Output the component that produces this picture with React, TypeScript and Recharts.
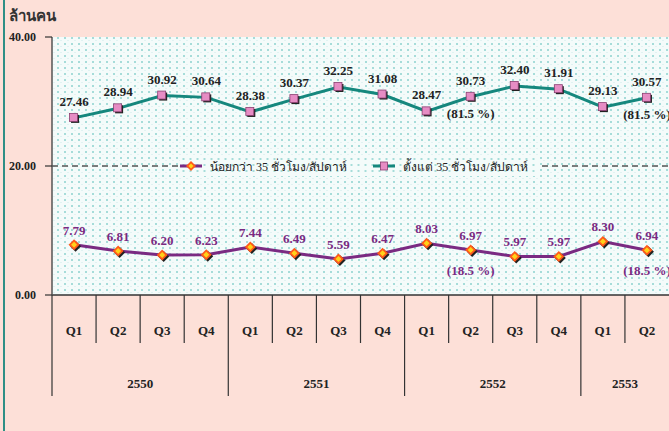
import React from "react";
import {
  LineChart,
  Line,
  XAxis,
  YAxis,
  CartesianGrid,
  ReferenceLine,
  LabelList,
  Legend,
} from "recharts";

const quarters = ["Q1", "Q2", "Q3", "Q4", "Q1", "Q2", "Q3", "Q4", "Q1", "Q2", "Q3", "Q4", "Q1", "Q2"];
const yearGroups = [
  { label: "2550", count: 4 },
  { label: "2551", count: 4 },
  { label: "2552", count: 4 },
  { label: "2553", count: 2 },
];
const fullTime = [27.46, 28.94, 30.92, 30.64, 28.38, 30.37, 32.25, 31.08, 28.47, 30.73, 32.4, 31.91, 29.13, 30.57];
const partTime = [7.79, 6.81, 6.2, 6.23, 7.44, 6.49, 5.59, 6.47, 8.03, 6.97, 5.97, 5.97, 8.3, 6.94];
const fullShare = ["", "", "", "", "", "", "", "", "", "(81.5 %)", "", "", "", "(81.5 %)"];
const partShare = ["", "", "", "", "", "", "", "", "", "(18.5 %)", "", "", "", "(18.5 %)"];
const yTicks = [0, 20, 40];

const FULL_NAME = "ตั้งแต่ 35 ชั่วโมง/สัปดาห์";
const PART_NAME = "น้อยกว่า 35 ชั่วโมง/สัปดาห์";

const data = quarters.map((q, i) => ({
  q,
  full: fullTime[i],
  part: partTime[i],
  fullShare: fullShare[i],
  partShare: partShare[i],
}));

const W = 669;
const H = 431;
const Y_AXIS_W = 52;
const PLOT_W = W - Y_AXIS_W;
const BW = PLOT_W / quarters.length;
const FONT = "'Liberation Serif', 'DejaVu Serif', serif";
const TEAL = "#15877d";
const PURPLE = "#7a2a82";

// year group start index -> group
const groupAt: Record<number, { label: string; count: number }> = {};
let start = 0;
yearGroups.forEach((g) => {
  groupAt[start] = g;
  start += g.count;
});

const QuarterTick = (props: any) => {
  const { x, y, payload } = props;
  const i = payload.index;
  const left = x - BW / 2;
  const g = groupAt[i];
  return (
    <g>
      <line x1={left} x2={left} y1={y} y2={y + (g ? 101 : 48)} stroke="#333" strokeWidth={1.2} />
      <text x={x} y={y + 40} textAnchor="middle" fontFamily={FONT} fontWeight="bold" fontSize={13} fill="#222">
        {payload.value}
      </text>
      {g && (
        <text
          x={left + (g.count * BW) / 2}
          y={y + 93}
          textAnchor="middle"
          fontFamily={FONT}
          fontWeight="bold"
          fontSize={13}
          fill="#222"
        >
          {g.label}
        </text>
      )}
    </g>
  );
};

const SquareDot = (props: any) => {
  const { cx, cy } = props;
  if (cx == null || cy == null) return null;
  return (
    <g>
      <rect x={cx - 3} y={cy - 3} width={8} height={8} fill="#222" />
      <rect x={cx - 4.5} y={cy - 4.5} width={8} height={8} fill="#e68cc4" stroke="#8a3f70" strokeWidth={0.8} />
    </g>
  );
};

const DiamondDot = (props: any) => {
  const { cx, cy } = props;
  if (cx == null || cy == null) return null;
  const d = (ox: number, oy: number, r: number) =>
    `M${cx + ox},${cy + oy - r} L${cx + ox + r},${cy + oy} L${cx + ox},${cy + oy + r} L${cx + ox - r},${cy + oy} Z`;
  return (
    <g>
      <path d={d(1.5, 1.5, 5.5)} fill="#222" />
      <path d={d(0, 0, 5.5)} fill="#ff5a1a" />
      <path d={d(0, 0, 3)} fill="#ffd21a" />
    </g>
  );
};

const LegendContent = () => (
  <div
    style={{
      display: "flex",
      alignItems: "center",
      height: 20,
      fontFamily: FONT,
      fontSize: 12,
      color: "#222",
      backgroundColor: "#f4fbfa",
      backgroundImage: "radial-gradient(#a6dcd9 1px, transparent 1.3px)",
      backgroundSize: "7px 6px",
    }}
  >
    <svg width={22} height={14} style={{ marginRight: 8 }}>
      <line x1={0} x2={22} y1={7} y2={7} stroke={PURPLE} strokeWidth={3} />
      <path d="M11,2 L16,7 L11,12 L6,7 Z" fill="#ff5a1a" />
      <path d="M11,4.5 L13.5,7 L11,9.5 L8.5,7 Z" fill="#ffd21a" />
    </svg>
    <span style={{ marginRight: 26 }}>{PART_NAME}</span>
    <svg width={22} height={14} style={{ marginRight: 8 }}>
      <line x1={0} x2={22} y1={7} y2={7} stroke={TEAL} strokeWidth={3} />
      <rect x={7.5} y={3} width={7} height={8} fill="#e68cc4" stroke="#8a3f70" strokeWidth={0.8} />
    </svg>
    <span style={{ marginRight: 10 }}>{FULL_NAME}</span>
  </div>
);

export default function App() {
  return (
    <div
      style={{
        position: "absolute",
        left: 0,
        top: 0,
        width: W,
        height: H,
        background: "#fde0d8",
        overflow: "hidden",
      }}
    >
      <div style={{ position: "absolute", left: 3, top: 0, width: 2, height: H, background: "#2e8f86" }} />
      <div
        style={{
          position: "absolute",
          left: 9,
          top: 4,
          fontFamily: FONT,
          fontWeight: "bold",
          fontSize: 15,
          color: "#333",
        }}
      >
        ล้านคน
      </div>
      <LineChart width={W} height={H} data={data} margin={{ top: 37, right: 0, bottom: 36, left: 0 }}>
        <defs>
          <pattern id="dots" width={7} height={6} patternUnits="userSpaceOnUse">
            <rect width={7} height={6} fill="#f4fbfa" />
            <rect x={1} y={1} width={2} height={2} fill="#a6dcd9" />
            <rect x={4.5} y={4} width={1} height={1} fill="#cdeceb" />
          </pattern>
        </defs>
        <CartesianGrid horizontal={false} vertical={false} fill="url(#dots)" fillOpacity={1} stroke="none" />
        <XAxis
          dataKey="q"
          padding={{ left: BW / 2, right: BW / 2 }}
          height={100}
          interval={0}
          tickLine={false}
          tickSize={0}
          tickMargin={0}
          axisLine={{ stroke: "#333", strokeWidth: 1.5 }}
          tick={<QuarterTick />}
        />
        <YAxis
          width={Y_AXIS_W}
          domain={[0, 40]}
          ticks={yTicks}
          interval={0}
          tickFormatter={(v: number) => v.toFixed(2)}
          tickSize={7}
          tickMargin={9}
          axisLine={{ stroke: "#555", strokeWidth: 1.5 }}
          tickLine={{ stroke: "#333", strokeWidth: 1.2 }}
          tick={{ fontFamily: FONT, fontWeight: "bold", fontSize: 12, fill: "#222" }}
        />
        <ReferenceLine y={20} stroke="#000" strokeDasharray="6 4" strokeWidth={1.2} />
        <Legend
          layout="horizontal"
          verticalAlign="middle"
          align="center"
          content={<LegendContent />}
          wrapperStyle={{ position: "absolute", left: 180, top: 156, width: "auto", height: 20 }}
        />
        <Line
          name={FULL_NAME}
          dataKey="full"
          stroke={TEAL}
          strokeWidth={3}
          dot={<SquareDot />}
          activeDot={false}
          isAnimationActive={false}
        >
          <LabelList dataKey="full" position="top" offset={12} formatter={(v: any) => Number(v).toFixed(2)} fontFamily={FONT} fontWeight="bold" fontSize={13} fill="#222" />
          <LabelList dataKey="fullShare" position="bottom" offset={12} fontFamily={FONT} fontWeight="bold" fontSize={13} fill="#222" />
        </Line>
        <Line
          name={PART_NAME}
          dataKey="part"
          stroke={PURPLE}
          strokeWidth={3}
          dot={<DiamondDot />}
          activeDot={false}
          isAnimationActive={false}
        >
          <LabelList dataKey="part" position="top" offset={10} formatter={(v: any) => Number(v).toFixed(2)} fontFamily={FONT} fontWeight="bold" fontSize={13} fill={PURPLE} />
          <LabelList dataKey="partShare" position="bottom" offset={16} fontFamily={FONT} fontWeight="bold" fontSize={13} fill={PURPLE} />
        </Line>
      </LineChart>
    </div>
  );
}
